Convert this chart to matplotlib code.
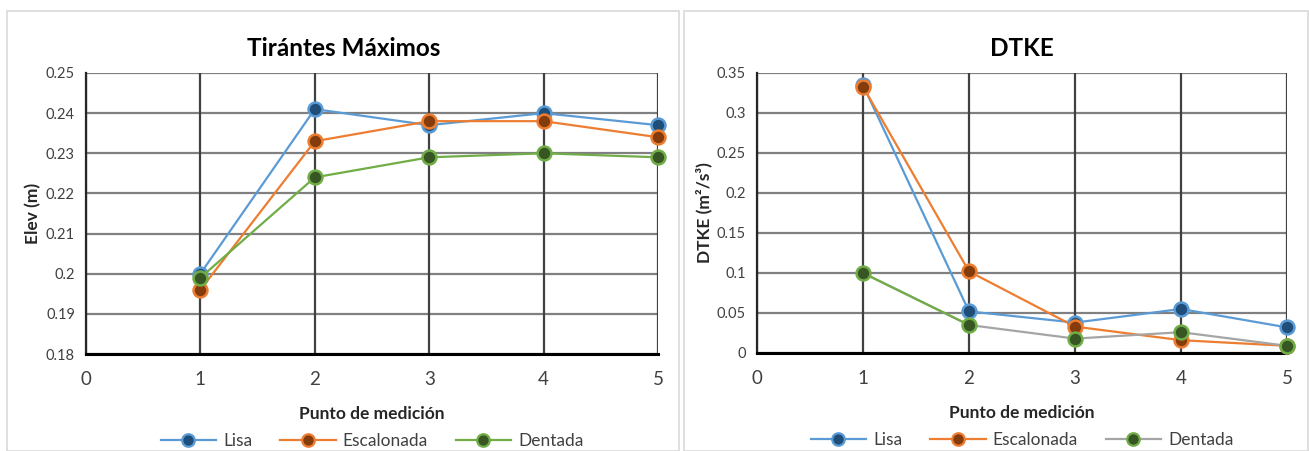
import matplotlib
matplotlib.use("Agg")
import matplotlib.pyplot as plt
from matplotlib.patches import Rectangle
from matplotlib.lines import Line2D

plt.rcParams['font.family'] = ['Lato', 'DejaVu Sans']

points = [1, 2, 3, 4, 5]
series_names = ["Lisa", "Escalonada", "Dentada"]

elev_lisa = [0.200, 0.241, 0.237, 0.240, 0.237]
elev_escalonada = [0.196, 0.233, 0.238, 0.238, 0.234]
elev_dentada = [0.199, 0.224, 0.229, 0.230, 0.229]

dtke_lisa = [0.335, 0.052, 0.038, 0.055, 0.032]
dtke_escalonada = [0.333, 0.102, 0.033, 0.016, 0.009]
dtke_dentada = [0.100, 0.035, 0.018, 0.026, 0.009]

elev_ticks = [0.18, 0.19, 0.20, 0.21, 0.22, 0.23, 0.24, 0.25]
elev_ticklabels = ["0.18", "0.19", "0.2", "0.21", "0.22", "0.23", "0.24", "0.25"]
dtke_ticks = [0, 0.05, 0.1, 0.15, 0.2, 0.25, 0.3, 0.35]
dtke_ticklabels = ["0", "0.05", "0.1", "0.15", "0.2", "0.25", "0.3", "0.35"]
x_ticks = [0, 1, 2, 3, 4, 5]

line_colors = ["#5B9BD5", "#ED7D31", "#70AD47"]
face_colors = ["#1F4E79", "#843C0C", "#375623"]
edge_colors = ["#5B9BD5", "#ED7D31", "#70AD47"]

fig = plt.figure(figsize=(13.09, 4.51), dpi=100)

# chart frames
fig.patches.append(Rectangle((7/1309, 0), 672/1309, 1 - 11/451, transform=fig.transFigure,
                             fill=False, edgecolor="#D9D9D9", linewidth=1.2))
fig.patches.append(Rectangle((684/1309, 0), 624/1309, 1 - 11/451, transform=fig.transFigure,
                             fill=False, edgecolor="#D9D9D9", linewidth=1.2))

axL = fig.add_axes([86/1309, 1 - 354/451, (658 - 86)/1309, (354 - 73)/451])
axR = fig.add_axes([757/1309, 1 - 353/451, (1287 - 757)/1309, (353 - 73)/451])


def style(ax, yticks, ylabels, ylim, title, ylabel, title_x):
    ax.set_xlim(0, 5)
    ax.set_ylim(*ylim)
    ax.set_xticks(x_ticks)
    ax.set_xticklabels([str(t) for t in x_ticks], fontsize=13.5, color="#404040")
    ax.set_yticks(yticks)
    ax.set_yticklabels(ylabels, fontsize=10.5, color="#404040")
    ax.tick_params(length=0, pad=8)
    ax.tick_params(axis='x', pad=12)
    for y in yticks:
        ax.axhline(y, color="#808080", linewidth=1.6, zorder=1)
    for x in x_ticks:
        ax.axvline(x, color="#404040", linewidth=1.6, zorder=1)
    for s in ["top", "right"]:
        ax.spines[s].set_visible(False)
    ax.spines["left"].set_color("#262626")
    ax.spines["left"].set_linewidth(1.6)
    ax.spines["bottom"].set_color("#000000")
    ax.spines["bottom"].set_linewidth(2.2)
    ax.set_title(title, fontsize=17.5, fontweight="bold", pad=12, x=title_x)
    ax.set_ylabel(ylabel, fontsize=12.5, fontweight="bold", labelpad=3, color="#262626")
    ax.set_xlabel("Punto de medición", fontsize=12.5, fontweight="bold", labelpad=13, color="#262626")


style(axL, elev_ticks, elev_ticklabels, (0.18, 0.25), "Tirántes Máximos", "Elev (m)", 0.45)
style(axR, dtke_ticks, dtke_ticklabels, (0, 0.35), "DTKE", "DTKE (m²/s³)", 0.5)

for i, vals in enumerate([elev_lisa, elev_escalonada, elev_dentada]):
    axL.plot(points, vals, color=line_colors[i], linewidth=1.6, marker="o", markersize=10,
             markerfacecolor=face_colors[i], markeredgecolor=edge_colors[i], markeredgewidth=1.8,
             zorder=3, clip_on=False)

right_line_colors = ["#5B9BD5", "#ED7D31", "#A5A5A5"]
for i, vals in enumerate([dtke_lisa, dtke_escalonada, dtke_dentada]):
    axR.plot(points, vals, color=right_line_colors[i], linewidth=1.6, zorder=3, clip_on=False)
# first segment of Dentada drawn green in reference
axR.plot(points[:2], dtke_dentada[:2], color="#70AD47", linewidth=1.6, zorder=3, clip_on=False)
for i, vals in enumerate([dtke_lisa, dtke_escalonada, dtke_dentada]):
    axR.plot(points, vals, linestyle="none", marker="o", markersize=10,
             markerfacecolor=face_colors[i], markeredgecolor=edge_colors[i], markeredgewidth=1.8,
             zorder=4, clip_on=False)


def legend(ax, lcolors):
    handles = [Line2D([0], [0], color=lcolors[i], linewidth=1.6, marker="o", markersize=9,
                      markerfacecolor=face_colors[i], markeredgecolor=edge_colors[i], markeredgewidth=1.6)
               for i in range(3)]
    ax.legend(handles, series_names, loc="upper center", bbox_to_anchor=(0.5, -0.225), ncol=3,
              frameon=False, fontsize=12.5, handlelength=3.2, columnspacing=1.6, handletextpad=0.4,
              labelcolor="#404040")


legend(axL, line_colors)
legend(axR, right_line_colors)

fig.savefig("out.png", dpi=100)
